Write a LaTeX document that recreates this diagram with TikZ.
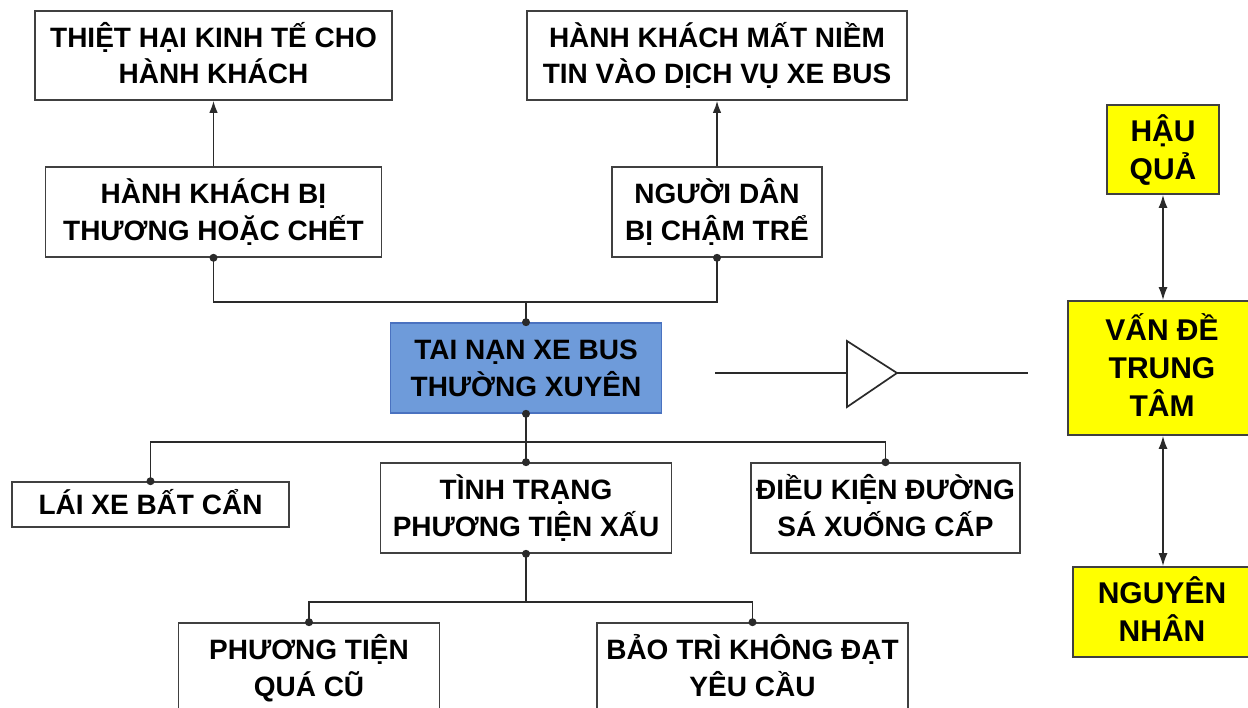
\documentclass[tikz,border=0pt]{standalone}
\usepackage{fontspec}
\setmainfont{Liberation Sans}
\usetikzlibrary{arrows.meta}
\newcommand\tstr{\rule{0pt}{1.05em}}
\newcommand\bstr{\rule[-0.334em]{0pt}{0.334em}}
\definecolor{boxline}{HTML}{404040}
\definecolor{conn}{HTML}{2A2A2A}
\definecolor{bluefill}{HTML}{6E9BDA}
\definecolor{blueline}{HTML}{4A72C0}
\definecolor{yel}{HTML}{FFFF00}
\begin{document}
\begin{tikzpicture}[x=1pt,y=-1pt,
  box/.style={draw=boxline, line width=1.6pt, fill=white, align=center, inner sep=0pt,
    text=black, font=\fontsize{28}{36.5}\selectfont\bfseries},
  bluebox/.style={box, fill=bluefill, draw=blueline},
  ybox/.style={box, fill=yel, draw=black!75, font=\fontsize{30}{38}\selectfont\bfseries},
  wire/.style={draw=conn, line width=1.7pt},
  arr/.style={wire, -{Latex[length=12pt,width=8.5pt]}},
  darr/.style={wire, {Latex[length=13pt,width=9pt]}-{Latex[length=13pt,width=9pt]}},
  dot/.style={fill=conn}
]
\useasboundingbox[fill=white] (0,0) rectangle (1248,708);

% top row
\node[box, minimum width=357, minimum height=89] (A) at (213.5,55.5) {\tstr THIỆT HẠI KINH TẾ CHO\\HÀNH KHÁCH\bstr};
\node[box, minimum width=380, minimum height=89] (C) at (717,55.5) {\tstr HÀNH KHÁCH MẤT NIỀM\\TIN VÀO DỊCH VỤ XE BUS\bstr};
% second row
\node[box, minimum width=336, minimum height=90] (B) at (213.5,212) {\tstr HÀNH KHÁCH BỊ\\THƯƠNG HOẶC CHẾT\bstr};
\node[box, minimum width=210, minimum height=90] (D) at (717,212) {\tstr NGƯỜI DÂN\\BỊ CHẬM TRỂ\bstr};
% central problem
\node[bluebox, minimum width=271, minimum height=90] (T) at (526,368) {\tstr TAI NẠN XE BUS\\THƯỜNG XUYÊN\bstr};
% causes
\node[box, minimum width=277, minimum height=45] (L) at (150.5,504.5) {\tstr LÁI XE BẤT CẨN\bstr};
\node[box, minimum width=291, minimum height=90] (M) at (526,508) {\tstr TÌNH TRẠNG\\PHƯƠNG TIỆN XẤU\bstr};
\node[box, minimum width=269, minimum height=90] (R) at (885.5,508) {\tstr ĐIỀU KIỆN ĐƯỜNG\\SÁ XUỐNG CẤP\bstr};
\node[box, minimum width=261, minimum height=90] (PL) at (309,668) {\tstr PHƯƠNG TIỆN\\QUÁ CŨ\bstr};
\node[box, minimum width=311, minimum height=90] (PR) at (752.5,668) {\tstr BẢO TRÌ KHÔNG ĐẠT\\YÊU CẦU\bstr};
% legend column
\node[ybox, minimum width=112, minimum height=89] (HQ) at (1163,149.5) {\tstr HẬU\\QUẢ\bstr};
\node[ybox, minimum width=188, minimum height=134] (VD) at (1162,368) {\tstr VẤN ĐỀ\\TRUNG\\TÂM\bstr};
\node[ybox, minimum width=178, minimum height=90] (NN) at (1162,612) {\tstr NGUYÊN\\NHÂN\bstr};

% junction coordinates
\coordinate (jt) at (526,302);
\coordinate (jb) at (526,442);
\coordinate (jc) at (526,602);

% effects
\draw[arr] (B.north) -- (A.south);
\draw[arr] (D.north) -- (C.south);
\draw[wire] (B.south) |- (jt) -| (D.south);
\draw[wire] (jt) -- (T.north);
% causes
\draw[wire] (T.south) -- (jb);
\draw[wire] (L.north) |- (jb) -| (R.north);
\draw[wire] (jb) -- (M.north);
\draw[wire] (M.south) -- (jc);
\draw[wire] (PL.north) |- (jc) -| (PR.north);

% dots
\foreach \p in {B.south, D.south, T.north, T.south, L.north, M.north, R.north, M.south, PL.north, PR.north}
  \fill[dot] (\p) circle[radius=4pt];

% legend arrows
\draw[darr] (HQ.south) -- (HQ.south |- VD.north);
\draw[darr] (VD.south -| HQ.south) -- (NN.north -| HQ.south);

% transition symbol
\coordinate (s1) at (715,373);
\coordinate (t1) at (847,341);
\coordinate (t2) at (847,407);
\coordinate (t3) at (897,373);
\coordinate (s2) at (1028,373);
\draw[wire] (s1) -- (s1 -| t1);
\draw[wire, line join=miter] (t1) -- (t3) -- (t2) -- cycle;
\draw[wire] (t3) -- (s2);
\end{tikzpicture}
\end{document}
